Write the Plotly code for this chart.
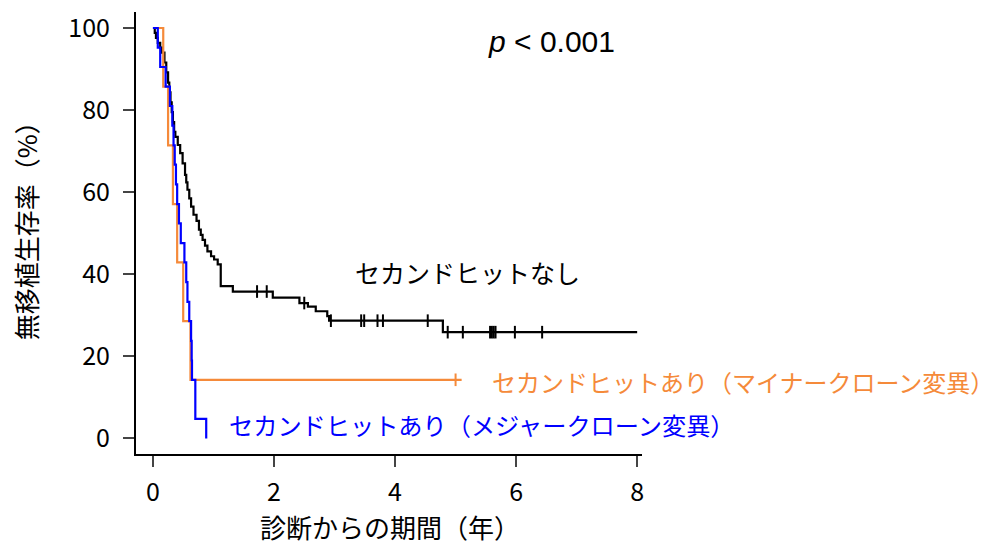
import plotly.graph_objects as go
import numpy as np

# ---- data ----
black_t = [0, 0.03, 0.05, 0.08, 0.12, 0.15, 0.19, 0.22, 0.25, 0.27, 0.29, 0.31, 0.33, 0.35, 0.37,
           0.41, 0.45, 0.49, 0.53, 0.55, 0.57, 0.60, 0.63, 0.67, 0.72, 0.76, 0.79, 0.82, 0.86, 0.90,
           0.96, 1.01, 1.07, 1.12, 1.32, 1.98, 2.42, 2.56, 2.69, 2.88, 2.91, 4.79, 8.0]
black_s = [100, 98.8, 97.6, 96.4, 95.2, 94.0, 91.6, 89.2, 86.7, 84.3, 81.9, 79.5, 77.1, 74.7, 73.5,
           71.5, 69.5, 67.0, 64.2, 62.4, 60.6, 58.5, 56.5, 54.5, 53.0, 50.9, 49.6, 48.4, 47.0, 45.6,
           44.4, 43.6, 42.4, 37.1, 35.8, 34.3, 33.0, 32.1, 31.0, 29.8, 28.7, 25.9, 25.9]
black_censor = [1.72, 1.88, 2.50, 2.94, 3.44, 3.49, 3.71, 3.80, 4.54, 4.87, 5.12,
                5.57, 5.60, 5.63, 5.66, 5.98, 6.43]

orange_t = [0, 0.17, 0.25, 0.33, 0.40, 0.50, 0.62, 5.1]
orange_s = [100, 85.7, 71.4, 57.1, 42.9, 28.6, 14.3, 14.3]
orange_censor = [5.0]

blue_t = [0, 0.08, 0.12, 0.21, 0.28, 0.32, 0.34, 0.36, 0.38, 0.40, 0.43, 0.46, 0.52, 0.55,
          0.57, 0.60, 0.63, 0.64, 0.645, 0.70, 0.88]
blue_s = [100, 95.2, 90.5, 85.7, 81.0, 76.2, 71.4, 66.7, 61.9, 57.1, 52.4, 47.6, 42.9, 38.1,
          33.3, 28.6, 23.8, 19.0, 14.3, 4.8, 0]

x_ticks = [0, 2, 4, 6, 8]
y_ticks = [0, 20, 40, 60, 80, 100]

label_none = "セカンドヒットなし"
label_minor = "セカンドヒットあり（マイナークローン変異）"
label_major = "セカンドヒットあり（メジャークローン変異）"
x_title = "診断からの期間（年）"
y_title = "無移植生存率（%）"
p_text = "<i>p</i> < 0.001"

BLACK = "#000000"
ORANGE = "#F58A3A"
BLUE = "#0000FF"
JP = "Noto Sans CJK JP"


def step_value(ts, ss, t):
    idx = np.searchsorted(np.array(ts), t, side="right") - 1
    return ss[max(idx, 0)]


fig = go.Figure()
for ts, ss, col in [(black_t, black_s, BLACK), (orange_t, orange_s, ORANGE), (blue_t, blue_s, BLUE)]:
    fig.add_trace(go.Scatter(x=ts, y=ss, mode="lines", line=dict(color=col, width=2.2, shape="hv"),
                             showlegend=False, hoverinfo="skip"))

for ts, ss, cens, col in [(black_t, black_s, black_censor, BLACK), (orange_t, orange_s, orange_censor, ORANGE)]:
    fig.add_trace(go.Scatter(x=cens, y=[step_value(ts, ss, c) for c in cens], mode="markers",
                             marker=dict(symbol="line-ns", size=9, line=dict(color=col, width=2)),
                             showlegend=False, hoverinfo="skip"))

fig.add_annotation(x=5.20, y=40.6, xref="x", yref="y", text=label_none, showarrow=False,
                   xanchor="center", yanchor="middle", font=dict(family=JP, size=25, color=BLACK))
fig.add_annotation(x=5.59, y=13.8, xref="x", yref="y", text=label_minor, showarrow=False,
                   xanchor="left", yanchor="middle", borderpad=0,
                   font=dict(family=JP, size=24, color=ORANGE))
fig.add_annotation(x=1.22, y=3.3, xref="x", yref="y", text=label_major, showarrow=False,
                   xanchor="left", yanchor="middle", font=dict(family=JP, size=24.2, color=BLUE))
fig.add_annotation(x=5.50, y=96.6, xref="x", yref="y", text=p_text, showarrow=False,
                   xanchor="left", yanchor="middle", font=dict(family="Liberation Sans", size=30, color=BLACK))
fig.add_annotation(x=0.502, y=-0.165, xref="paper", yref="paper", text=x_title, showarrow=False,
                   xanchor="center", yanchor="middle", font=dict(family=JP, size=26, color=BLACK))
fig.add_annotation(x=-0.219, y=0.52, xref="paper", yref="paper", text=y_title, showarrow=False,
                   xanchor="center", yanchor="middle",
                   textangle=-90, font=dict(family=JP, size=26, color=BLACK))

fig.update_xaxes(range=[-0.28, 8.08], tickvals=x_ticks, ticks="outside", ticklen=11, tickwidth=2,
                 showline=True, linecolor=BLACK, linewidth=2, showgrid=False, zeroline=False,
                 automargin=False,
                 tickfont=dict(family=JP, size=25, color=BLACK), ticklabelstandoff=4)
fig.update_yaxes(range=[-3.78, 103.9], tickvals=y_ticks, ticks="outside", ticklen=11, tickwidth=2,
                 showline=True, linecolor=BLACK, linewidth=2, showgrid=False, zeroline=False,
                 automargin=False,
                 tickfont=dict(family=JP, size=25, color=BLACK), ticklabelstandoff=8)

fig.update_layout(width=995, height=549, margin=dict(l=136, r=353, t=12, b=95),
                  plot_bgcolor="white", paper_bgcolor="white")

fig.write_html("out.html", config={"displayModeBar": False},
               post_script="document.body.style.margin='0';")
